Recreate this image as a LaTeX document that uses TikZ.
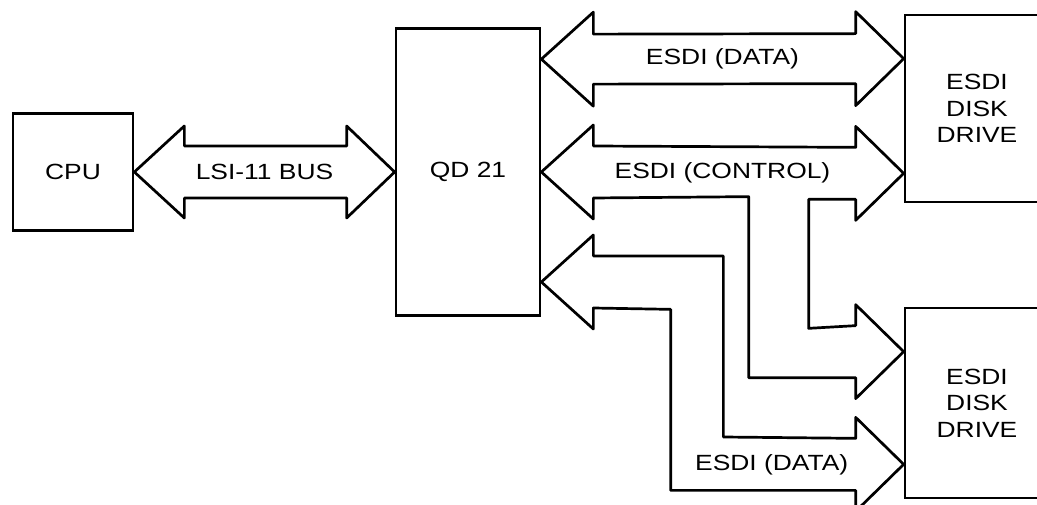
\documentclass[tikz,border=0pt]{standalone}
\usepackage{fontspec}
\setmainfont[FakeStretch=1.2]{Liberation Sans}
\usetikzlibrary{calc}
\tikzset{
  unit/.style={draw, line width=2.7pt, inner sep=0pt, align=center},
  bus/.style={draw, line width=2.7pt, line join=round},
  lbl/.style={inner sep=0pt, align=center}
}
\begin{document}
\begin{tikzpicture}[x=1pt, y=-1pt, font=\fontsize{22}{26.5}\selectfont]
\useasboundingbox (0,0) rectangle (1037,505);
\clip (0,0) rectangle (1037,505);
\node[unit, minimum width=120, minimum height=117] (cpu) at (73,172) {CPU};
\node[unit, minimum width=144, minimum height=287] (qd) at (468,172) {QD 21};
\node[unit, minimum width=144, minimum height=187] (disk1) at (977,108.5) {ESDI\\DISK\\DRIVE};
\node[unit, minimum width=144, minimum height=190] (disk2) at (977,403) {ESDI\\DISK\\DRIVE};
\coordinate (dataL) at ($(qd.north east)+(0,32)$);
\coordinate (dataR) at ($(disk1.north west)+(0,45)$);
\coordinate (ctlR) at ($(disk1.south west)+(0,-30)$);
\coordinate (ctlS) at ($(disk2.north west)+(0,45)$);
\coordinate (dataL2) at ($(qd.east)+(0,110)$);
\coordinate (dataR2) at ($(disk2.south west)+(0,-35)$);
\draw[bus] (cpu.east) -- ++(50,-46) -- ++(0,20) -- ($(qd.west)+(-48,-26)$) -- ++(0,-20) -- (qd.west) -- ++(-48,46) -- ++(0,-20) -- ($(cpu.east)+(50,26)$) -- ++(0,20) -- cycle;
\draw[bus] (dataL) -- ++(52,-47) -- ++(0,22) -- ($(dataR)+(-48,-25)$) -- ++(0,-22) -- (dataR) -- ++(-48,47) -- ++(0,-22) -- ($(dataL)+(52,25)$) -- ++(0,22) -- cycle;
\draw[bus] (qd.east) -- ++(52,-47) -- ++(0,21) -- ($(ctlR)+(-48,-26)$) -- ++(0,-21) -- (ctlR) -- ++(-48,47) -- ++(0,-21) -- ++(-47,0) -- ++(0,129) -- ($(ctlS)+(-48,-26)$) -- ++(0,-21) -- (ctlS) -- ++(-48,47) -- ++(0,-21) -- ++(-107,0) -- ++(0,-181) -- ($(qd.east)+(52,26)$) -- ++(0,21) -- cycle;
\draw[bus] (dataL2) -- ++(52,-47) -- ++(0,21) -- ++(130,0) -- ++(0,181) -- ($(dataR2)+(-48,-26)$) -- ++(0,-21) -- (dataR2) -- ++(-48,47) -- ++(0,-21) -- ++(-185,0) -- ++(0,-181) -- ($(dataL2)+(52,26)$) -- ++(0,21) -- cycle;
\node[lbl] (lsilbl) at ($(cpu.east)!0.5!(qd.west)$) {LSI-11 BUS};
\node[lbl] (datalbl) at ($(dataL)!0.5!(dataR)$) {ESDI (DATA)};
\node[lbl] (ctllbl) at ($(qd.east)!0.5!(ctlR)$) {ESDI (CONTROL)};
\node[lbl] (data2lbl) at ($(dataR2)+(-132,0)$) {ESDI (DATA)};
\end{tikzpicture}
\end{document}
